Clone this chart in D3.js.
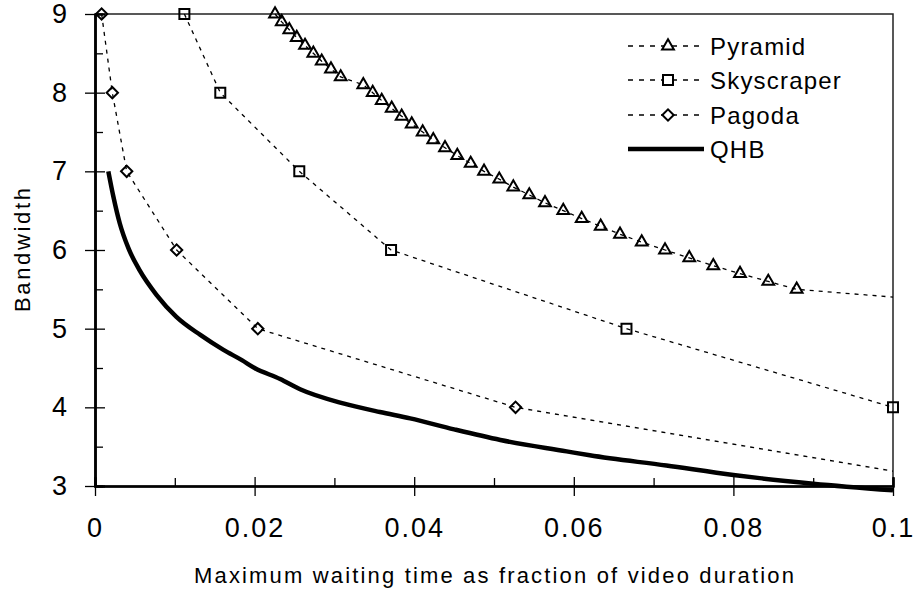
<!DOCTYPE html>
<html>
<head>
<meta charset="utf-8">
<script src="https://cdn.jsdelivr.net/npm/d3@7"></script>
<style>
  body { margin: 0; background: #fff; }
  svg { display: block; font-family: "Liberation Sans", Arial, sans-serif; }
</style>
</head>
<body>
<svg id="chart" width="915" height="591"></svg>
<script>
// values
const seriesNames = ["Pyramid", "Skyscraper", "Pagoda", "QHB"];

const pyramidX = [0.02256, 0.0234, 0.02435, 0.02528, 0.02632, 0.02736, 0.02841, 0.02957, 0.03079,
  0.03362, 0.0348, 0.03593, 0.03718, 0.03843, 0.03969, 0.04106, 0.04239, 0.04386, 0.0454,
  0.04708, 0.04875, 0.05066, 0.05242, 0.05442, 0.05639, 0.05868, 0.06099, 0.06337, 0.06579,
  0.06851, 0.07143, 0.07447, 0.07748, 0.08083, 0.08437, 0.08793, 0.1124];
const pyramidY = [9.0, 8.9, 8.8, 8.7, 8.6, 8.5, 8.4, 8.3, 8.2, 8.1, 8.0, 7.9, 7.8, 7.7, 7.6, 7.5,
  7.4, 7.3, 7.2, 7.1, 7.0, 6.9, 6.8, 6.7, 6.6, 6.5, 6.4, 6.3, 6.2, 6.1, 6.0, 5.9, 5.8, 5.7,
  5.6, 5.5, 5.3];

const skyscraperX = [0.0112, 0.0157, 0.0256, 0.0371, 0.0666, 0.1];
const skyscraperY = [9, 8, 7, 6, 5, 4];

const pagodaX = [0.00083, 0.00217, 0.00397, 0.01023, 0.0204, 0.0527, 0.111];
const pagodaY = [9, 8, 7, 6, 5, 4, 3];

const qhbX = [0.00167, 0.0023, 0.0031, 0.0042, 0.0056, 0.0077, 0.0102, 0.0132, 0.0161, 0.0184,
  0.02, 0.0232, 0.0257, 0.0311, 0.0357, 0.0395, 0.045, 0.0508, 0.0591, 0.062, 0.0716, 0.08,
  0.0833, 0.09, 0.1];
const qhbY = [7.0, 6.68, 6.34, 6.02, 5.74, 5.43, 5.15, 4.92, 4.73, 4.6, 4.5, 4.36, 4.23, 4.05,
  3.94, 3.86, 3.72, 3.585, 3.44, 3.39, 3.26, 3.14, 3.1, 3.03, 2.945];

const xTicks = [0, 0.02, 0.04, 0.06, 0.08, 0.1];
const xTickLabels = ["0", "0.02", "0.04", "0.06", "0.08", "0.1"];
const xMinorTicks = [0.01, 0.03, 0.05, 0.07, 0.09];
const yTicks = [3, 4, 5, 6, 7, 8, 9];
const yTickLabels = ["3", "4", "5", "6", "7", "8", "9"];
const yMinorTicks = [3.5, 4.5, 5.5, 6.5, 7.5, 8.5];

const margin = { top: 14, right: 22, bottom: 105, left: 95 };
const svg = d3.select("#chart");
const width = +svg.attr("width") - margin.left - margin.right;
const height = +svg.attr("height") - margin.top - margin.bottom;

const x = d3.scaleLinear().domain([0, 0.1]).range([0, width]);
const y = d3.scaleLinear().domain([3, 9]).range([height, 0]);

const g = svg.append("g").attr("transform", `translate(${margin.left},${margin.top})`);

svg.append("defs").append("clipPath").attr("id", "clip")
  .append("rect").attr("x", 0).attr("y", -20).attr("width", width).attr("height", height + 40);

// frame (top and right)
g.append("path")
  .attr("d", `M0,0H${width}V${height}`)
  .attr("fill", "none").attr("stroke", "#222").attr("stroke-width", 1.5);

const zip = (xs, ys) => xs.map((v, i) => ({ x: v, y: ys[i] }));
const series = [
  { name: "Pyramid", data: zip(pyramidX, pyramidY), marker: "triangle" },
  { name: "Skyscraper", data: zip(skyscraperX, skyscraperY), marker: "square" },
  { name: "Pagoda", data: zip(pagodaX, pagodaY), marker: "diamond" },
  { name: "QHB", data: zip(qhbX, qhbY), marker: null }
];

const line = d3.line().x((d) => x(d.x)).y((d) => y(d.y));
const smoothLine = d3.line().x((d) => x(d.x)).y((d) => y(d.y)).curve(d3.curveMonotoneX);

const symbolPath = {
  triangle: d3.symbol().type(d3.symbolTriangle).size(60)(),
  square: d3.symbol().type(d3.symbolSquare).size(100)(),
  diamond: d3.symbol().type(d3.symbolSquare).size(64)()
};
const symbolRotate = { triangle: 0, square: 0, diamond: 45 };

const lines = g.append("g").attr("clip-path", "url(#clip)");
series.forEach((s) => {
  lines.append("path")
    .datum(s.data)
    .attr("fill", "none")
    .attr("stroke", "#000")
    .attr("stroke-width", s.marker ? 1.3 : 4.5)
    .attr("stroke-dasharray", s.marker ? "4,5" : null)
    .attr("stroke-linejoin", "round")
    .attr("d", s.marker ? line : smoothLine);
});

// axes
const xAxisG = g.append("g").attr("transform", `translate(0,${height})`);
xAxisG.append("g").call(d3.axisBottom(x).tickValues(xMinorTicks).tickSize(-8).tickFormat(""));
xAxisG.append("g").call(d3.axisBottom(x).tickValues(xTicks).tickSize(-9).tickFormat(""));
xAxisG.append("g")
  .call(d3.axisBottom(x).tickValues(xTicks).tickSizeInner(10).tickSizeOuter(0).tickPadding(22)
    .tickFormat((d, i) => xTickLabels[i]));

const yAxisG = g.append("g");
yAxisG.append("g").call(d3.axisLeft(y).tickValues(yMinorTicks).tickSize(-8).tickFormat(""));
yAxisG.append("g").call(d3.axisLeft(y).tickValues(yTicks).tickSize(-10).tickFormat(""));
yAxisG.append("g")
  .call(d3.axisLeft(y).tickValues(yTicks).tickSizeInner(10).tickSizeOuter(0).tickPadding(18)
    .tickFormat((d, i) => yTickLabels[i]));

g.selectAll(".domain").attr("stroke", "#000").attr("stroke-width", 2.2);
g.selectAll(".tick line").attr("stroke", "#000").attr("stroke-width", 1.3);
g.selectAll(".tick text")
  .attr("fill", "#000")
  .style("font-family", "'Liberation Sans', Arial, sans-serif")
  .style("font-size", "27px")
  .style("letter-spacing", "2px");
yAxisG.selectAll(".tick text").style("letter-spacing", "0px");

// markers
series.filter((s) => s.marker).forEach((s) => {
  g.append("g").selectAll("path")
    .data(s.data.filter((d) => d.x <= 0.1 + 1e-9))
    .join("path")
    .attr("d", symbolPath[s.marker])
    .attr("transform", (d) => `translate(${x(d.x)},${y(d.y)}) rotate(${symbolRotate[s.marker]})`)
    .attr("fill", "none")
    .attr("stroke", "#000")
    .attr("stroke-width", 2);
});

// axis titles
svg.append("text")
  .attr("x", margin.left + width / 2)
  .attr("y", 583)
  .attr("text-anchor", "middle")
  .attr("textLength", 600)
  .attr("lengthAdjust", "spacing")
  .style("font-size", "22px")
  .text("Maximum waiting time as fraction of video duration");

svg.append("text")
  .attr("transform", `translate(30,${margin.top + height / 2}) rotate(-90)`)
  .attr("text-anchor", "middle")
  .attr("textLength", 124)
  .attr("lengthAdjust", "spacing")
  .style("font-size", "22px")
  .text("Bandwidth");

// legend
const legendRows = [46, 80, 115, 149];
const legend = svg.append("g");
seriesNames.forEach((name, i) => {
  const s = series.find((d) => d.name === name);
  const row = legend.append("g").attr("transform", `translate(628,${legendRows[i]})`);
  row.append("line")
    .attr("x1", 0).attr("x2", 76)
    .attr("stroke", "#000")
    .attr("stroke-width", s.marker ? 1.5 : 4.5)
    .attr("stroke-dasharray", s.marker ? "5,6" : null);
  if (s.marker) {
    row.append("path")
      .attr("d", symbolPath[s.marker])
      .attr("transform", `translate(40,0) rotate(${symbolRotate[s.marker]})`)
      .attr("fill", "#fff")
      .attr("stroke", "#000")
      .attr("stroke-width", 2);
  }
  row.append("text")
    .attr("x", 82)
    .attr("dy", "0.36em")
    .style("font-size", "24px")
    .style("letter-spacing", "1.2px")
    .text(name);
});
</script>
</body>
</html>
